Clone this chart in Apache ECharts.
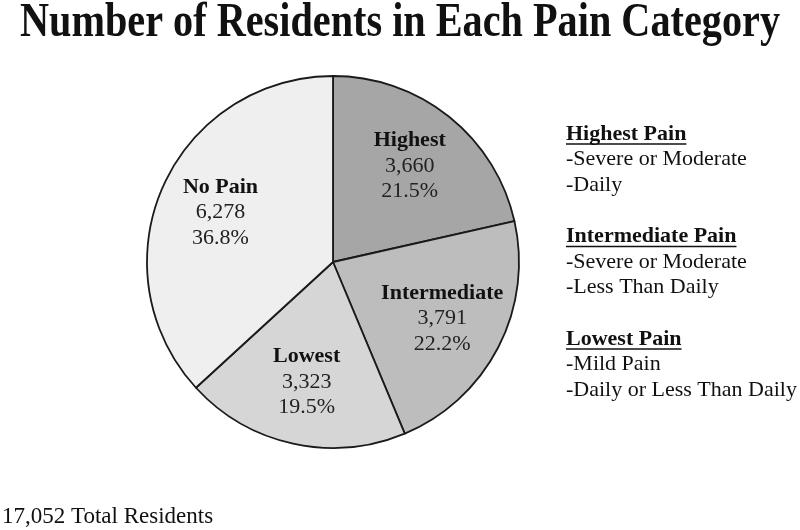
<!DOCTYPE html>
<html>
<head>
<meta charset="utf-8">
<script src="https://cdn.jsdelivr.net/npm/echarts@6/dist/echarts.min.js"></script>
<style>
  html, body { margin: 0; padding: 0; background: #fff; }
  #pie { width: 800px; height: 530px; }
</style>
</head>
<body>
<div id="pie"></div>
<script>
// data
var categories = ['Highest', 'Intermediate', 'Lowest', 'No Pain'];
var residents = [3660, 3791, 3323, 6278];
var percents = ['21.5%', '22.2%', '19.5%', '36.8%'];
var sliceColors = ['#a6a6a6', '#bdbdbd', '#d6d6d6', '#efefef'];
var titleText = 'Number of Residents in Each Pain Category';
var totalText = '17,052 Total Residents';
var notes = [
    { head: 'Highest Pain', lines: ['-Severe or Moderate', '-Daily'] },
    { head: 'Intermediate Pain', lines: ['-Severe or Moderate', '-Less Than Daily'] },
    { head: 'Lowest Pain', lines: ['-Mild Pain', '-Daily or Less Than Daily'] }
];

var FONT = '"Liberation Serif", serif';
var center = [333, 262];
var R = 186;

function fmt(n) {
    return n.toString().replace(/\B(?=(\d{3})+(?!\d))/g, ',');
}

// measure text width (underlines, title squeeze)
var cv = document.createElement('canvas').getContext('2d');
function textW(txt, size, bold) {
    cv.font = (bold ? 'bold ' : '') + size + 'px ' + FONT;
    return cv.measureText(txt).width;
}

var pieData = categories.map(function (c, i) {
    return { name: c, value: residents[i], itemStyle: { color: sliceColors[i] } };
});

var graphics = [];
// title, narrowed like the condensed original
var tw = textW(titleText, 48, true);
graphics.push({
    type: 'text', x: 400, y: 24, scaleX: 760 / tw, scaleY: 1,
    style: { text: titleText, font: 'bold 48px ' + FONT, fill: '#111', align: 'center', verticalAlign: 'middle' }
});

// side notes
var y = 134;
notes.forEach(function (n) {
    graphics.push({
        type: 'text', x: 566, y: y,
        style: { text: n.head, font: 'bold 22px ' + FONT, fill: '#111', verticalAlign: 'middle' }
    });
    graphics.push({
        type: 'line',
        shape: { x1: 566, y1: y + 10, x2: 566 + textW(n.head, 22, true), y2: y + 10 },
        style: { stroke: '#111', lineWidth: 1.6 }
    });
    n.lines.forEach(function (l, k) {
        graphics.push({
            type: 'text', x: 566, y: y + 25.5 * (k + 1),
            style: { text: l, font: '22px ' + FONT, fill: '#111', verticalAlign: 'middle' }
        });
    });
    y += 102.5;
});
graphics.push({
    type: 'text', x: 2, y: 517,
    style: { text: totalText, font: '23px ' + FONT, fill: '#111', verticalAlign: 'middle' }
});

let myChart = echarts.init(document.getElementById('pie'));
myChart.setOption({
    animation: false,
    graphic: graphics,
    series: [
        {
            type: 'pie',
            center: center,
            radius: [0, R],
            startAngle: 90,
            clockwise: true,
            silent: true,
            itemStyle: { borderColor: '#1a1a1a', borderWidth: 1.8 },
            labelLine: { show: false },
            label: {
                show: true,
                position: 'inside',
                fontFamily: FONT,
                fontSize: 22,
                lineHeight: 25.5,
                color: '#222',
                formatter: function (p) {
                    return '{b|' + p.name + '}\n' + fmt(p.value) + '\n' + percents[p.dataIndex];
                },
                rich: {
                    b: { fontFamily: FONT, fontWeight: 'bold', fontSize: 22, lineHeight: 25.5, color: '#111' }
                }
            },
            // push labels out from half radius to ~0.64 radius
            labelLayout: function (p) {
                var r = p.labelRect;
                var cx = r.x + r.width / 2, cy = r.y + r.height / 2;
                var k = 0.64 / 0.5;
                return { x: center[0] + (cx - center[0]) * k, y: center[1] + (cy - center[1]) * k };
            },
            data: pieData
        }
    ]
});
</script>
</body>
</html>
